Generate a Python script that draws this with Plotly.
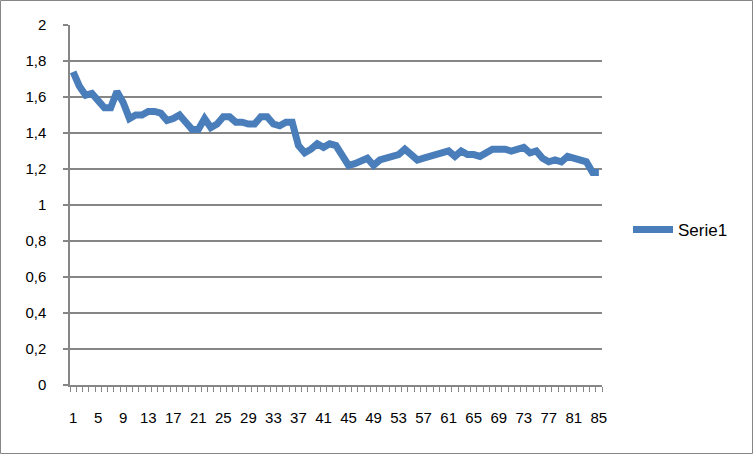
import plotly.graph_objects as go

categories = list(range(1, 86))
serie1 = [1.74, 1.66, 1.61, 1.62, 1.58, 1.54, 1.54, 1.63, 1.57, 1.48,
          1.50, 1.50, 1.52, 1.52, 1.51, 1.47, 1.48, 1.50, 1.46, 1.42,
          1.42, 1.48, 1.43, 1.45, 1.49, 1.49, 1.46, 1.46, 1.45, 1.45,
          1.49, 1.49, 1.45, 1.44, 1.46, 1.46, 1.33, 1.29, 1.31, 1.34,
          1.32, 1.34, 1.33, 1.28, 1.22, 1.23, 1.25, 1.26, 1.22, 1.25,
          1.26, 1.27, 1.28, 1.31, 1.28, 1.25, 1.26, 1.27, 1.27, 1.28,
          1.30, 1.27, 1.30, 1.28, 1.28, 1.27, 1.29, 1.31, 1.31, 1.31,
          1.30, 1.31, 1.32, 1.29, 1.30, 1.26, 1.24, 1.25, 1.24, 1.27,
          1.26, 1.24, 1.24, 1.18, 1.18]
x_tick_vals = list(range(1, 86, 4))
x_tick_text = [str(v) for v in x_tick_vals]
y_ticks = [0, 0.2, 0.4, 0.6, 0.8, 1, 1.2, 1.4, 1.6, 1.8, 2]
y_tick_text = [f"{v:g}".replace(".", ",") for v in y_ticks]

W, H = 753, 454
L, R, T, B = 70, 151, 25, 69
pw, ph = W - L - R, H - T - B

fig = go.Figure()
fig.add_trace(go.Scatter(
    x=categories, y=serie1, mode="lines", name="Serie1",
    line=dict(color="#4A7EBB", width=7),
))

font = dict(family="Liberation Sans, Arial, sans-serif", size=15, color="#000000")
fig.update_layout(
    width=W, height=H, autosize=False,
    margin=dict(l=L, r=R, t=T, b=B, pad=0),
    paper_bgcolor="white", plot_bgcolor="white",
    font=font,
    showlegend=True,
    legend=dict(x=(628 - L) / pw, y=(H - B - 230) / ph, xanchor="left", yanchor="middle",
                font=dict(family="Liberation Sans, Arial, sans-serif", size=17, color="#000"),
                bgcolor="rgba(0,0,0,0)", itemwidth=40, tracegroupgap=0),
    xaxis=dict(
        range=[0.5, 85.5], tickmode="array", tickvals=x_tick_vals, ticktext=x_tick_text,
        ticks="", showgrid=False, zeroline=False,
        showline=True, linecolor="#868686", linewidth=1.5,
        ticklabelstandoff=18,
        minor=dict(tickmode="linear", tick0=0.5, dtick=1, ticks="outside", ticklen=5,
                   tickcolor="#868686", tickwidth=1, showgrid=False),
    ),
    yaxis=dict(
        range=[0, 2], tickmode="array", tickvals=y_ticks, ticktext=y_tick_text,
        ticks="outside", ticklen=5, tickcolor="#868686", tickwidth=1.5,
        showgrid=True, gridcolor="#868686", gridwidth=1.5,
        zeroline=False, showline=True, linecolor="#868686", linewidth=1.5,
        ticklabelstandoff=14,
    ),
    shapes=[dict(type="rect", xref="paper", yref="paper",
                 x0=(0.5 - L) / pw, x1=(W - 0.5 - L) / pw,
                 y0=-(B - 0.5) / ph, y1=(H - 0.5 - B) / ph,
                 line=dict(color="#868686", width=1), fillcolor="rgba(0,0,0,0)",
                 layer="below")],
)

fig.write_html("out.html", post_script="document.body.style.margin='0';",
               config={"displayModeBar": False})
